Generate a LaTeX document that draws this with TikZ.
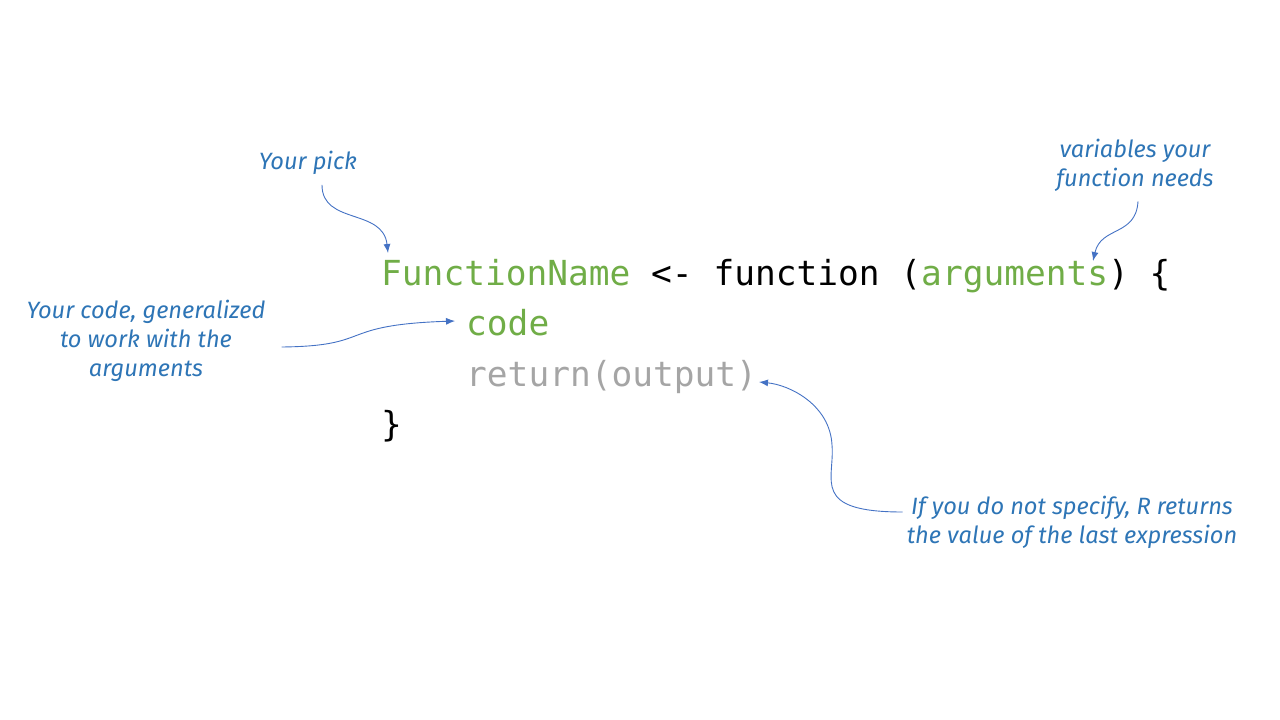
\documentclass[tikz,border=0pt]{standalone}
\usepackage{fontspec}
\setmainfont{Fira Sans}
\setmonofont{DejaVu Sans Mono}
\usetikzlibrary{arrows.meta,positioning,calc}

\definecolor{codegreen}{HTML}{70AD47}
\definecolor{codegrey}{HTML}{A5A5A5}
\definecolor{notetext}{HTML}{2E75B6}
\definecolor{notearrow}{HTML}{4472C4}

\begin{document}
\begin{tikzpicture}[x=1pt,y=-1pt,
  codeline/.style={anchor=base west,inner sep=0pt,font=\fontsize{34.5}{40}\selectfont\ttfamily},
  note/.style={align=center,inner sep=0pt,text=notetext,font=\fontsize{23.6}{29}\selectfont\itshape},
  pointer/.style={draw=notearrow,line width=0.9pt,-{Latex[length=9pt,width=7pt]}}]

  \useasboundingbox (0,0) rectangle (1280,720);

  %% code lines
  \node[codeline] (L1) at (381,285) {\textcolor{codegreen}{FunctionName} <- function (\textcolor{codegreen}{arguments}) \{};
  \node[codeline,text=codegreen] (L2) at (466,335.5) {code};
  \node[codeline,text=codegrey] (L3) at (466,386) {return(output)};
  \node[codeline] (L4) at (381,436.5) {\}};

  %% notes
  \node[note] (pick) at (308,163) {Your pick};
  \node[note] (needs) at (1135,165) {variables your\\function needs};
  \node[note] (yourcode) at (146,341) {Your code, generalized\\to work with the\\arguments};
  \node[note] (unless) at (1072,522) {If you do not specify, R returns\\the value of the last expression};

  %% arrow ends
  \coordinate (pickE) at (388,253);
  \coordinate (needsE) at (1093,261);
  \coordinate (codeE) at (455,321);
  \coordinate (retE) at (759,382);

  \draw[pointer] ($(pick.south)+(14,10)$) .. controls +(0,40) and +(-5,-45) .. (pickE);
  \draw[pointer] ($(needs.south)+(3,10)$) .. controls +(-2,35) and +(8,-35) .. (needsE);
  \draw[pointer] ($(yourcode.east)+(16,6)$) .. controls (375,346) and (335,325) .. (codeE);
  \draw[pointer] ($(unless.west)+(-4,-10)$) .. controls (810,512) and (835,480) .. (832,445)
     .. controls (830,405) and (790,385) .. (retE);
\end{tikzpicture}
\end{document}
